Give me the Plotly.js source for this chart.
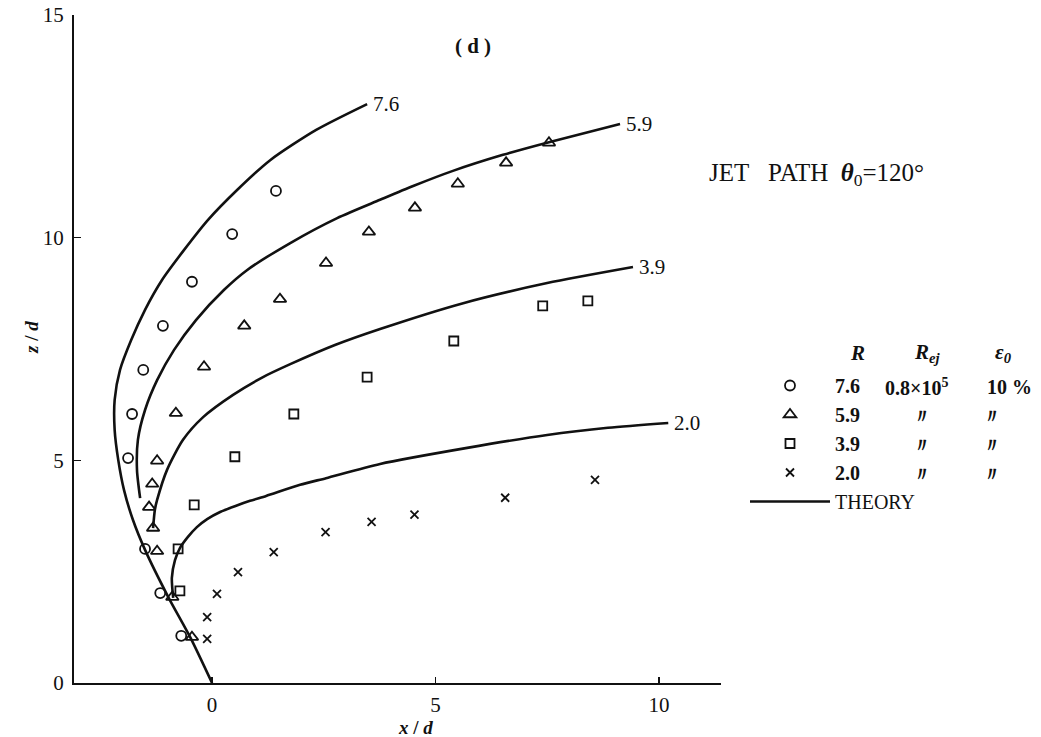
<!DOCTYPE html>
<html>
<head>
<meta charset="utf-8">
<script src="https://cdn.plot.ly/plotly-3.0.1.min.js"></script>
<style>
  html, body { margin: 0; padding: 0; background: #fff; }
  #chart { width: 1041px; height: 737px; }
</style>
</head>
<body>
<div id="chart"></div>
<script>
// Jet path in a cross flow, injection angle 120 deg: measured points and theory curves.

// Measured points, R = 7.6
const x76 = [-0.69, -1.16, -1.50, -1.88, -1.79, -1.54, -1.10, -0.45, 0.45, 1.43];
const z76 = [1.06, 2.02, 3.01, 5.05, 6.04, 7.03, 8.02, 9.01, 10.08, 11.05];
// Measured points, R = 5.9
const x59 = [-0.45, -0.89, -1.23, -1.32, -1.41, -1.34, -1.23, -0.81, -0.18, 0.72, 1.52, 2.55, 3.51, 4.54, 5.50, 6.58, 7.54];
const z59 = [1.03, 1.93, 2.96, 3.48, 3.95, 4.47, 4.99, 6.06, 7.10, 8.02, 8.62, 9.43, 10.13, 10.67, 11.21, 11.68, 12.13];
// Measured points, R = 3.9
const x39 = [-0.72, -0.76, -0.40, 0.51, 1.83, 3.47, 5.41, 7.40, 8.41];
const z39 = [2.07, 3.01, 4.00, 5.08, 6.04, 6.87, 7.68, 8.47, 8.58];
// Measured points, R = 2.0
const x20 = [-0.11, -0.11, 0.11, 0.58, 1.38, 2.54, 3.57, 4.53, 6.56, 8.57];
const z20 = [0.99, 1.48, 2.00, 2.49, 2.94, 3.39, 3.62, 3.78, 4.16, 4.56];

// Theory curves
const tx76 = [0, -0.49, -0.98, -1.50, -1.77, -1.97, -2.10, -2.18, -2.18, -2.06, -1.81, -1.50, -1.12, -0.63, -0.09, 0.56, 1.30, 2.33, 3.47];
const tz76 = [0, 1.03, 1.93, 2.99, 3.66, 4.33, 5.01, 5.68, 6.36, 7.03, 7.70, 8.38, 9.05, 9.72, 10.40, 11.07, 11.74, 12.42, 13.00];
const tx59 = [-1.61, -1.68, -1.66, -1.50, -1.23, -0.85, -0.36, 0.27, 0.78, 1.75, 2.80, 3.76, 4.50, 5.39, 6.51, 7.56, 9.13];
const tz59 = [4.15, 4.78, 5.46, 6.13, 6.80, 7.48, 8.15, 8.83, 9.27, 9.88, 10.44, 10.85, 11.16, 11.50, 11.86, 12.15, 12.55];
const tx39 = [-1.32, -1.28, -1.23, -1.01, -0.65, -0.20, 0.47, 1.14, 1.75, 2.75, 3.76, 5.62, 7.50, 9.42];
const tz39 = [3.48, 3.89, 4.11, 4.78, 5.46, 5.97, 6.47, 6.87, 7.16, 7.59, 7.95, 8.53, 8.98, 9.34];
const tx20 = [-0.87, -0.90, -0.83, -0.72, -0.54, -0.34, -0.11, 0.18, 0.51, 0.85, 1.21, 1.97, 2.55, 3.76, 5.71, 7.50, 8.86, 10.21];
const tz20 = [1.91, 2.36, 2.76, 3.03, 3.28, 3.50, 3.68, 3.84, 3.97, 4.09, 4.20, 4.45, 4.60, 4.92, 5.28, 5.57, 5.73, 5.84];

// Legend table columns
const rLabels = ['7.6', '5.9', '3.9', '2.0'];
const rejLabels = ['0.8×10<sup>5</sup>', '〃', '〃', '〃'];
const epsLabels = ['10 %', '〃', '〃', '〃'];

// Axis ticks
const xTicks = [0, 5, 10];
const yTicks = [0, 5, 10, 15];

const SERIF = '"Liberation Serif", "DejaVu Serif", serif';
const INK = '#111';
const NB = '\u00a0';

const pointSets = [
  { x: x76, z: z76, symbol: 'circle-open', size: 10 },
  { x: x59, z: z59, symbol: 'triangle-up-open', size: 11 },
  { x: x39, z: z39, symbol: 'square-open', size: 9 },
  { x: x20, z: z20, symbol: 'x-thin-open', size: 8 }
];
const theorySets = [
  { x: tx76, z: tz76 },
  { x: tx59, z: tz59 },
  { x: tx39, z: tz39 },
  { x: tx20, z: tz20 }
];

const traces = [];
pointSets.forEach((s, i) => {
  traces.push({
    type: 'scatter', mode: 'markers',
    x: s.x, y: s.z,
    name: '<b>' + rLabels[i] + '</b>',
    marker: { symbol: s.symbol, size: s.size, color: INK, line: { color: INK, width: 1.8 } },
    hoverinfo: 'x+y'
  });
});
theorySets.forEach((s, i) => {
  traces.push({
    type: 'scatter', mode: 'lines',
    x: s.x, y: s.z,
    name: 'THEORY',
    legendgroup: 'theory',
    showlegend: i === 0,
    line: { color: INK, width: 2.6, shape: 'spline', smoothing: 0.7 },
    hoverinfo: 'x+y'
  });
});

// Curve labels placed just past each curve's end
const annotations = theorySets.map((s, i) => ({
  x: s.x[s.x.length - 1], y: s.z[s.z.length - 1],
  xref: 'x', yref: 'y', xanchor: 'left', yanchor: 'middle', xshift: 4,
  text: rLabels[i], showarrow: false,
  font: { family: SERIF, size: 21, color: INK }
}));

// Plot-area pixel geometry used to place the legend table text
const L = 74, T = 15, W = 647, H = 668;
const px = v => (v - L) / W;
const py = v => (T + H - v) / H;

annotations.push(
  { x: px(857), y: py(353), xref: 'paper', yref: 'paper', xanchor: 'center', yanchor: 'middle',
    text: '<b><i>R</i></b>', showarrow: false, font: { family: SERIF, size: 21, color: INK } },
  { x: px(912), y: py(353), xref: 'paper', yref: 'paper', xanchor: 'left', yanchor: 'middle',
    text: '<b><i>R<sub>ej</sub></i></b>', showarrow: false, font: { family: SERIF, size: 21, color: INK } },
  { x: px(993), y: py(353), xref: 'paper', yref: 'paper', xanchor: 'left', yanchor: 'middle',
    text: '<b><i>ε<sub>0</sub></i></b>', showarrow: false, font: { family: SERIF, size: 21, color: INK } }
);
const rowY = [387, 416, 445, 474];
rowY.forEach((yy, i) => {
  annotations.push({
    x: i === 0 ? px(883) : px(922), y: py(yy), xref: 'paper', yref: 'paper',
    xanchor: i === 0 ? 'left' : 'center', yanchor: 'middle',
    text: '<b>' + rejLabels[i] + '</b>', showarrow: false, font: { family: SERIF, size: 20, color: INK }
  });
  annotations.push({
    x: i === 0 ? px(985) : px(992), y: py(yy), xref: 'paper', yref: 'paper',
    xanchor: i === 0 ? 'left' : 'center', yanchor: 'middle',
    text: '<b>' + epsLabels[i] + '</b>', showarrow: false, font: { family: SERIF, size: 20, color: INK }
  });
});

// Case note and axis titles
annotations.push(
  { x: px(707), y: py(174), xref: 'paper', yref: 'paper', xanchor: 'left', yanchor: 'middle',
    text: 'JET' + NB + NB + ' PATH' + NB + ' <i><b>θ</b></i><sub>0</sub>=120°', showarrow: false,
    font: { family: SERIF, size: 25, color: INK } },
  { x: px(415), y: py(727), xref: 'paper', yref: 'paper', xanchor: 'center', yanchor: 'middle',
    text: '<b><i>x</i> / <i>d</i></b>', showarrow: false, font: { family: SERIF, size: 19, color: INK } },
  { x: px(32), y: py(338), xref: 'paper', yref: 'paper', xanchor: 'center', yanchor: 'middle',
    text: '<b><i>z</i> / <i>d</i></b>', textangle: -90, showarrow: false, font: { family: SERIF, size: 19, color: INK } }
);

const layout = {
  width: 1041, height: 737,
  margin: { l: L, r: 1041 - L - W, t: T, b: 737 - T - H, pad: 0 },
  paper_bgcolor: '#fff', plot_bgcolor: '#fff',
  title: {
    text: '<b>( d )</b>', x: 473 / 1041, xref: 'container', xanchor: 'center',
    y: 1 - 46 / 737, yref: 'container', yanchor: 'middle',
    font: { family: SERIF, size: 21, color: INK }
  },
  xaxis: {
    range: [-3.09, 11.39], tickvals: xTicks, ticktext: xTicks.map(String),
    ticks: 'inside', ticklen: 6, tickwidth: 1.5, tickcolor: INK,
    showline: true, linewidth: 2, linecolor: INK, mirror: false,
    showgrid: false, zeroline: false, ticklabelstandoff: 2,
    tickfont: { family: SERIF, size: 21, color: INK }
  },
  yaxis: {
    range: [0, 15], tickvals: yTicks, ticktext: yTicks.map(String),
    ticks: 'inside', ticklen: 7, tickwidth: 1.5, tickcolor: INK,
    showline: true, linewidth: 2, linecolor: INK, mirror: false,
    showgrid: false, zeroline: false, ticklabelstandoff: 4,
    tickfont: { family: SERIF, size: 21, color: INK }
  },
  showlegend: true,
  legend: {
    x: px(745), y: py(366), xanchor: 'left', yanchor: 'top',
    bgcolor: 'rgba(0,0,0,0)', borderwidth: 0,
    itemwidth: 80, tracegroupgap: 0, traceorder: 'normal',
    font: { family: SERIF, size: 20, color: INK }
  },
  annotations: annotations
};

Plotly.newPlot('chart', traces, layout, { displayModeBar: false, staticPlot: true });
</script>
</body>
</html>
